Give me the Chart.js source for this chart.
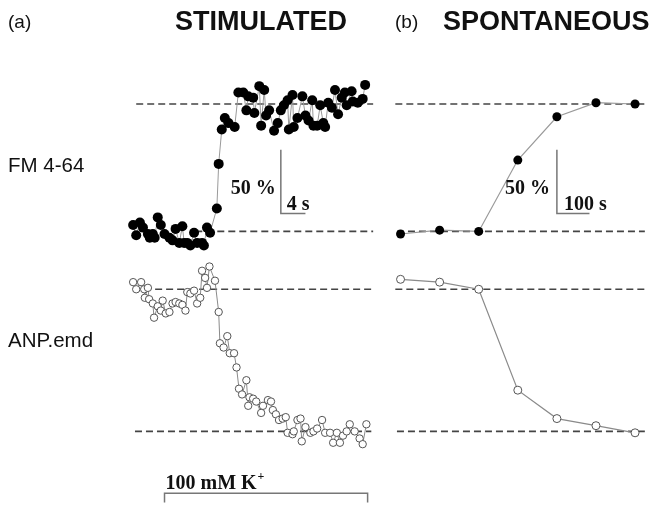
<!DOCTYPE html>
<html>
<head>
<meta charset="utf-8">
<script src="https://cdn.jsdelivr.net/npm/chart.js@4.4.1/dist/chart.umd.min.js"></script>
<style>
  body { margin: 0; background: #fff; }
  canvas { display: block; }
</style>
</head>
<body>
<canvas id="fig" width="653" height="505"></canvas>
<script>
// (a) stimulated: time in s (0 = start of 100 mM K+), signal in % of the dashed levels
const stimFMTime = [-5.1, -4.6, -4.0, -3.5, -2.7, -2.4, -1.9, -1.6, -1.1, -0.6, 0, 0.8, 1.3, 1.8, 2.4, 2.9, 3.2, 3.7, 4.2, 4.8,
  5.3, 6.1, 6.4, 6.9, 7.4, 8.5, 8.8, 9.3, 9.8, 10.4, 11.4, 12.0, 12.8, 13.3, 13.6, 14.4, 14.6, 15.4, 15.7, 16.2,
  16.5, 17.0, 17.8, 18.4, 18.9, 19.4, 20.0, 20.2, 20.8, 21.0, 21.6, 22.4, 22.9, 23.4, 24.0, 24.2, 24.8, 25.3, 25.8, 26.1,
  26.6, 27.2, 27.7, 28.2, 28.8, 29.3, 29.6, 30.4, 30.6, 31.4, 32.2, 32.6]
const stimFM = [5, -3, 7, 3, -2, -5, -2, -5, 11, 5, -2, -5, -7, 2, -9, 4, -9, -9, -11, -1,
  -9, -9, -11, 3, -1, 18, 53, 80, 89, 85, 82, 109, 109, 95, 106, 105, 93, 114, 83, 111,
  91, 95, 79, 85, 95, 99, 103, 80, 107, 82, 89, 106, 91, 87, 103, 83, 83, 99, 85, 82,
  101, 97, 111, 92, 105, 109, 99, 110, 102, 101, 104, 115]

const stimANPTime = [-5.1, -4.6, -3.8, -3.3, -3.2, -2.7, -2.5, -1.9, -1.7, -1.1, -0.6, -0.3, 0.2, 0.8, 1.3, 1.8, 2.4, 2.9, 3.4, 3.7,
  4.2, 4.8, 5.3, 5.8, 6.1, 6.6, 6.9, 7.3, 8.2, 8.8, 9.0, 9.6, 10.2, 10.6, 11.3, 11.7, 12.1, 12.6, 13.3, 13.6,
  13.8, 14.4, 14.9, 15.7, 16.0, 16.8, 17.3, 17.6, 18.1, 18.6, 19.2, 19.7, 20.0, 20.8, 21.0, 21.6, 22.1, 22.3, 22.9, 23.7,
  24.2, 24.8, 25.6, 26.1, 26.9, 27.4, 28.0, 28.5, 29.0, 29.6, 30.1, 30.9, 31.7, 32.2, 32.8]
const stimANP = [105, 100, 105, 100, 94, 101, 93, 90, 80, 88, 85, 92, 83, 84, 90, 91, 90, 89, 85, 98,
  97, 99, 90, 94, 113, 108, 101, 116, 106, 84, 62, 59, 67, 55, 55, 45, 30, 26, 36, 18,
  24, 23, 21, 13, 18, 22, 21, 15, 12, 8, 9, 10, -1, -2, 0, 8, 9, -7, 3, -1,
  0, 2, 8, -1, -1, -8, -1, -8, -3, 0, 5, 0, -5, -9, 5]

// (b) spontaneous: time in s
const sponTime = [0, 120, 240, 360, 480, 600, 720]
const sponFM = [-2, 1, 0, 56, 90, 101, 100]
const sponANP = [107, 105, 100, 29, 9, 4, -1]

const stimulusLabel = '100 mM K'
const stimulusLength = 33   // s
const traceNames = ['FM 4-64', 'ANP.emd']

const pts = (xs, ys) => xs.map((x, i) => ({x: x, y: ys[i]}))

const dashed = (data, xAxis, yAxis) => ({
  data: data, xAxisID: xAxis, yAxisID: yAxis, showLine: true, pointRadius: 0,
  borderColor: '#444', borderWidth: 1.6, borderDash: [7, 4], order: 5
})
const bar = (data, xAxis, yAxis) => ({
  data: data, xAxisID: xAxis, yAxisID: yAxis, showLine: true, pointRadius: 0,
  borderColor: '#777', borderWidth: 1.5, order: 5
})

const datasets = [
  // dashed reference levels
  dashed([{x: -4.6, y: 100}, {x: 33.9, y: 100}], 'xStim', 'yFM'),
  dashed([{x: 5, y: 0}, {x: 33.9, y: 0}], 'xStim', 'yFM'),
  dashed([{x: -5.1, y: 100}, {x: 33.6, y: 100}], 'xStim', 'yANP'),
  dashed([{x: -4.8, y: 0}, {x: 33.6, y: 0}], 'xStim', 'yANP'),
  dashed([{x: -16, y: 100}, {x: 750, y: 100}], 'xSpon', 'yFM'),
  dashed([{x: -11, y: 0}, {x: 750, y: 0}], 'xSpon', 'yFM'),
  dashed([{x: -16, y: 100}, {x: 750, y: 100}], 'xSpon', 'yANP'),
  dashed([{x: -11, y: 0}, {x: 750, y: 0}], 'xSpon', 'yANP'),
  // scale bars: 50 % and 4 s / 100 s
  bar([{x: 18.9, y: 64}, {x: 18.9, y: 14}, {x: 22.9, y: 14}], 'xStim', 'yFM'),
  bar([{x: 480, y: 64}, {x: 480, y: 14}, {x: 580, y: 14}], 'xSpon', 'yFM'),
  // stimulus bracket
  bar([{x: 0, y: -50}, {x: 0, y: -43.5}, {x: stimulusLength, y: -43.5}, {x: stimulusLength, y: -50}], 'xStim', 'yANP'),
  // traces
  {
    data: pts(stimFMTime, stimFM), xAxisID: 'xStim', yAxisID: 'yFM', showLine: true,
    borderColor: '#9a9a9a', borderWidth: 1, pointRadius: 5, pointBackgroundColor: '#000',
    pointBorderColor: '#000', pointBorderWidth: 0, order: 0
  },
  {
    data: pts(stimANPTime, stimANP), xAxisID: 'xStim', yAxisID: 'yANP', showLine: true,
    borderColor: '#8a8a8a', borderWidth: 1, pointRadius: 3.7, pointBackgroundColor: '#fff',
    pointBorderColor: '#555', pointBorderWidth: 1, order: 0
  },
  {
    data: pts(sponTime, sponFM), xAxisID: 'xSpon', yAxisID: 'yFM', showLine: true,
    borderColor: '#9a9a9a', borderWidth: 1.2, pointRadius: 4.5, pointBackgroundColor: '#000',
    pointBorderColor: '#000', pointBorderWidth: 0, order: 0
  },
  {
    data: pts(sponTime, sponANP), xAxisID: 'xSpon', yAxisID: 'yANP', showLine: true,
    borderColor: '#8a8a8a', borderWidth: 1.2, pointRadius: 4, pointBackgroundColor: '#fff',
    pointBorderColor: '#555', pointBorderWidth: 1, order: 0
  }
]
datasets.forEach(d => { d.clip = false; d.fill = false })

// text on the figure
const figText = {
  id: 'figText',
  afterDatasetsDraw(chart) {
    const ctx = chart.ctx
    const s = chart.scales
    const sans = '"Liberation Sans", Arial, sans-serif'
    const serif = '"Liberation Serif", "Times New Roman", serif'
    ctx.save()
    ctx.fillStyle = '#111'
    ctx.textBaseline = 'middle'
    ctx.textAlign = 'left'
    ctx.font = '19px ' + sans
    ctx.fillText('(a)', 8, 23)
    ctx.fillText('(b)', 395, 23)
    ctx.font = 'bold 27px ' + sans
    ctx.fillText('STIMULATED', 175, 23)
    ctx.fillText('SPONTANEOUS', 443, 23)
    ctx.font = '20.5px ' + sans
    ctx.fillText(traceNames[0], 8, 166)
    ctx.fillText(traceNames[1], 8, 341)

    // scale bar labels
    ctx.textBaseline = 'alphabetic'
    ctx.font = 'bold 20px ' + serif
    const barY = s.yFM.getPixelForValue(14)
    const xa = s.xStim.getPixelForValue(18.9)
    const xb = s.xSpon.getPixelForValue(480)
    ctx.textAlign = 'right'
    ctx.fillText('50 %', xa - 5, barY - 20)
    ctx.fillText('50 %', xb - 7, barY - 20)
    ctx.textAlign = 'left'
    ctx.fillText('4 s', xa + 6, barY - 4)
    ctx.fillText('100 s', xb + 7, barY - 4)

    // stimulus label
    const kx = s.xStim.getPixelForValue(0)
    const ky = s.yANP.getPixelForValue(-43.5)
    ctx.fillText(stimulusLabel, kx + 1, ky - 4)
    const w = ctx.measureText(stimulusLabel).width
    ctx.font = 'bold 12px ' + serif
    ctx.fillText('+', kx + 2 + w, ky - 13)
    ctx.restore()
  }
}

const axis = (min, max) => ({type: 'linear', display: false, min: min, max: max, grace: 0})

new Chart(document.getElementById('fig'), {
  type: 'scatter',
  data: {datasets: datasets},
  options: {
    responsive: false,
    animation: false,
    events: [],
    layout: {padding: 0},
    plugins: {legend: {display: false}, tooltip: {enabled: false}},
    scales: {
      // pixel layout: stim t=0 at x=162 (6.25 px/s); spon t=0 at x=401.7 (0.3308 px/s)
      xStim: {...axis(-25.92, 78.56), position: 'bottom'},
      xSpon: {...axis(-1214.3, 759.7), position: 'bottom'},
      // FM: 0 % at y=231, 100 % at y=101; ANP: 0 % at y=435, 100 % at y=290
      yFM: {...axis(-210.77, 177.69), position: 'left'},
      yANP: {...axis(-48.28, 300), position: 'left'}
    }
  },
  plugins: [figText]
})
</script>
</body>
</html>
